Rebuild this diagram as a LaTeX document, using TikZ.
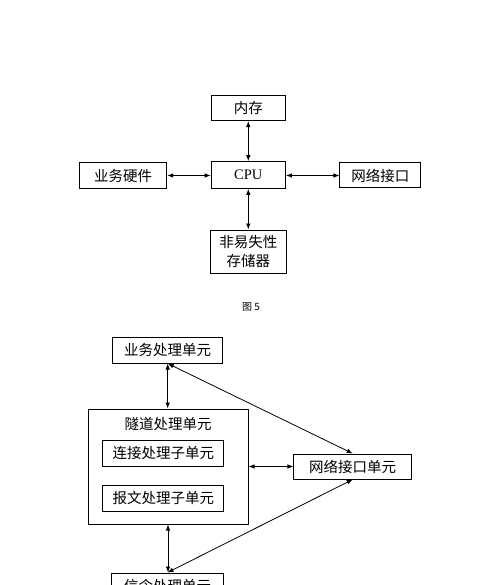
\documentclass[tikz,border=0pt]{standalone}
\usepackage{fontspec}
\setmainfont{Liberation Serif}
\newfontfamily\cjk{Noto Sans CJK SC}
\usetikzlibrary{arrows.meta}
\begin{document}
\begin{tikzpicture}[x=1pt,y=-1pt,
  box/.style={draw, line width=1pt, inner sep=0pt, align=center,
    font=\cjk\fontsize{14.5}{19.5}\selectfont},
  plain/.style={inner sep=0pt, align=center, font=\cjk\fontsize{14.5}{19.5}\selectfont},
  dbl/.style={{Latex[length=6pt,width=4.5pt]}-{Latex[length=6pt,width=4.5pt]}, line width=0.8pt}]
\useasboundingbox (0,0) rectangle (500,585);
\clip (0,0) rectangle (500,585);
% Figure 5
\node[box, minimum width=73.5pt, minimum height=25.5pt] (mem) at (248.3,107.8) {内存};
\node[box, minimum width=74.3pt, minimum height=26.6pt, font=\fontsize{14.5}{17}\selectfont] (cpu) at (248.3,175) {CPU};
\node[box, minimum width=87.4pt, minimum height=25.6pt] (hw) at (123,175.5) {业务硬件};
\node[box, minimum width=80.7pt, minimum height=25pt] (nif) at (380.3,175.5) {网络接口};
\node[box, minimum width=76pt, minimum height=43pt] (nv) at (248.3,251.5) {非易失性\\存储器};
\draw[dbl] (mem.south) -- (cpu.north);
\draw[dbl] (cpu.south) -- (nv.north);
\draw[dbl] (hw.east) -- (cpu.west |- hw.east);
\draw[dbl] (cpu.east |- nif.west) -- (nif.west);
\node[inner sep=0pt, font=\cjk\fontsize{10}{12}\selectfont] (cap) at (251,307) {图 5};
% Figure 2
\node[box, minimum width=110pt, minimum height=26pt] (biz) at (167.7,350) {业务处理单元};
\node[box, minimum width=160pt, minimum height=115pt] (tun) at (168,466.5) {};
\node[plain] (tunt) at (168,424) {隧道处理单元};
\node[box, minimum width=121.3pt, minimum height=25.5pt] (conn) at (163.3,453.3) {连接处理子单元};
\node[box, minimum width=121.3pt, minimum height=26.5pt] (pkt) at (163.3,498.3) {报文处理子单元};
\node[box, minimum width=117.5pt, minimum height=25pt] (net) at (352.7,466.5) {网络接口单元};
\node[box, minimum width=111.6pt, minimum height=26pt] (sig) at (167.5,586) {信令处理单元};
\draw[dbl] (biz.south) -- (biz.south |- tun.north);
\draw[dbl] (tun.south) -- (tun.south |- sig.north);
\draw[dbl] (tun.east |- net.west) -- (net.west);
\draw[dbl] (biz.south) -- (net.north);
\draw[dbl] (sig.north) -- (net.south);
\end{tikzpicture}
\end{document}
